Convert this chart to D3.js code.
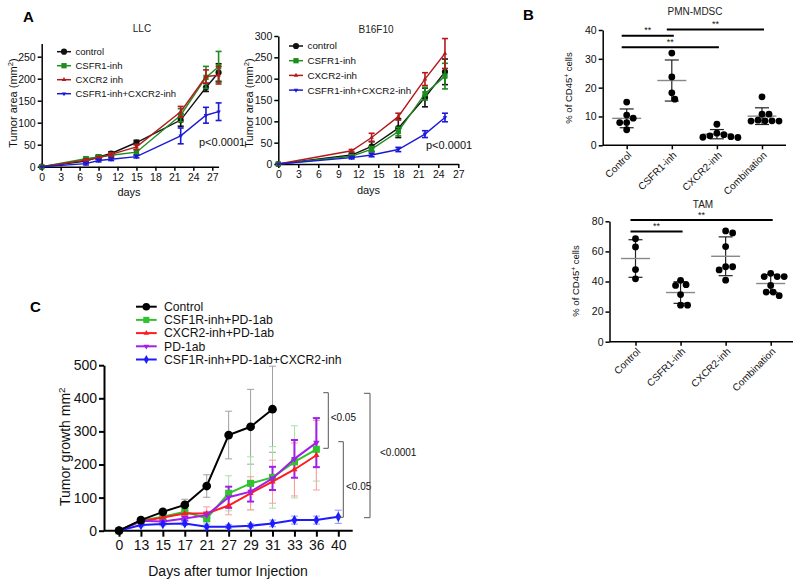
<!DOCTYPE html>
<html><head><meta charset="utf-8">
<script src="https://cdn.jsdelivr.net/npm/d3@7"></script>
<style>body{margin:0;background:#fff} svg{display:block;font-family:"Liberation Sans",Arial,sans-serif}</style>
</head><body><svg id="c" width="800" height="584"></svg>
<script>
// ---------- Panel A: LLC ----------
const llcDays = [0,7,9,11,15,22,26,28];
const llcControl = [0,13,22,30,55,106,180,214];
const llcControlErr = [0,4,4,4,5,14,9,20];
const llcCsfr1 = [0,18,22,26,33,117,203,227];
const llcCsfr1Err = [0,4,4,4,6,15,25,35];
const llcCxcr2 = [0,15,20,28,45,125,205,208];
const llcCxcr2Err = [0,3,3,4,6,12,15,20];
const llcCombo = [0,7,14,17,23,70,117,125];
const llcComboErr = [0,3,3,3,3,18,18,20];
const llcXTicks = [0,3,6,9,12,15,18,21,24,27];
const llcYTicks = [0,50,100,150,200,250];
const llcNames = ["control","CSFR1-inh","CXCR2 inh","CSFR1-inh+CXCR2-inh"];

// ---------- Panel A: B16F10 ----------
const b16Days = [0,11,14,18,22,25];
const b16Control = [0,21,41,84,156,216];
const b16ControlErr = [0,4,12,22,22,30];
const b16Csfr1 = [0,18,35,76,165,206];
const b16Csfr1Err = [0,3,6,10,15,30];
const b16Cxcr2 = [0,31,62,111,199,259];
const b16Cxcr2Err = [0,3,10,8,15,35];
const b16Combo = [0,15,21,34,70,109];
const b16ComboErr = [0,3,4,5,8,10];
const b16XTicks = [0,3,6,9,12,15,18,21,24,27];
const b16YTicks = [0,50,100,150,200,250,300];
const b16Names = ["control","CSFR1-inh","CXCR2-inh","CSFR1-inh+CXCR2-inh"];

// ---------- Panel B ----------
const bGroups = ["Control","CSFR1-inh","CXCR2-inh","Combination"];
const pmnControl = [15.0,10.5,9.4,7.9,7.9,5.4];
const pmnCsfr1 = [32,23.7,18.2,16];
const pmnCxcr2 = [7.3,4.2,3.7,3.3,3.0,2.8,2.7];
const pmnCombo = [16.8,10.8,10.8,8.7,8.5,8.5,8.4,8.4];
const pmnYTicks = [0,10,20,30,40];
const pmnSig = [["Control","CSFR1-inh",38.0],["Control","CXCR2-inh",34.0],["CSFR1-inh","Combination",40.2]];
const tamControl = [68.4,63,47.9,41.8];
const tamCsfr1 = [40.8,37.9,37.4,31.3,24.3,24.3];
const tamCxcr2 = [73.6,72.3,63.2,49.8,49.8,47.7,40.9];
const tamCombo = [45.4,43.3,43.3,43.3,37.4,33,33,30.6];
const tamYTicks = [0,20,40,60,80];
const tamSig = [["Control","CSFR1-inh",73.2],["Control","Combination",80.8]];

// ---------- Panel C ----------
const cDays = ["0","13","15","17","21","27","29","31","33","36","40"];
const cControl = [0,32,57,78,135,289,314,367,null,null,null];
const cControlErr = [0,5,6,17,34,72,113,130,null,null,null];
const cCsf1r = [0,30,42,57,37,113,143,161,208,246,null];
const cCsf1rErr = [0,5,8,10,12,53,80,93,109,96,null];
const cCxcr2 = [0,28,40,52,52,76,113,148,185,228,null];
const cCxcr2Err = [0,5,6,8,20,28,50,65,80,105,null];
const cPd1 = [0,30,28,37,47,101,118,158,217,266,null];
const cPd1Err = [0,4,5,6,8,32,30,35,57,74,null];
const cTriple = [0,17,20,22,12,12,15,22,32,32,42];
const cTripleErr = [0,5,5,6,8,6,6,10,12,12,20];
const cYTicks = [0,100,200,300,400,500];
const cNames = ["Control","CSF1R-inh+PD-1ab","CXCR2-inh+PD-1ab","PD-1ab","CSF1R-inh+PD-1ab+CXCR2-inh"];

const svg = d3.select("#c");

function styleAxis(g, w, fs){
  g.selectAll("path,line").attr("stroke","#000").attr("stroke-width",w);
  g.selectAll("text").attr("fill","#111").attr("font-size",fs).attr("font-family",'"Liberation Sans",Arial,sans-serif');
}
const downTri = {draw(ctx,size){const s=Math.sqrt(size/(Math.sqrt(3)*0.75)); const h=s*Math.sqrt(3)/2; ctx.moveTo(0,h*2/3); ctx.lineTo(s/2,-h/3); ctx.lineTo(-s/2,-h/3); ctx.closePath();}};
const upTri = {draw(ctx,size){const s=Math.sqrt(size/(Math.sqrt(3)*0.75)); const h=s*Math.sqrt(3)/2; ctx.moveTo(0,-h*2/3); ctx.lineTo(s/2,h/3); ctx.lineTo(-s/2,h/3); ctx.closePath();}};

function ylabelRot(text, cx, cy, fs, supText, tailText){
  const t = svg.append("text").attr("transform",`translate(${cx},${cy}) rotate(-90)`)
    .attr("text-anchor","middle").attr("dy","0.35em").attr("font-size",fs).attr("fill","#111").text(text);
  if(supText){ t.append("tspan").attr("baseline-shift","super").attr("font-size",fs*0.7).text(supText);
    t.append("tspan").text(tailText); }
  return t;
}

// ---------- Line panel (A) ----------
function linePanel(cfg){
  const x = d3.scaleLinear().domain(cfg.xDomain).range(cfg.xRange);
  const y = d3.scaleLinear().domain(cfg.yDomain).range(cfg.yRange);
  const gx = svg.append("g").attr("transform",`translate(0,${cfg.yRange[0]})`)
    .call(d3.axisBottom(x).tickValues(cfg.xTicks).tickSize(4).tickSizeOuter(0).tickPadding(3));
  styleAxis(gx,1.5,10.5);
  const gy = svg.append("g").attr("transform",`translate(${cfg.xRange[0]},0)`)
    .call(d3.axisLeft(y).tickValues(cfg.yTicks).tickSize(4).tickSizeOuter(0).tickPadding(2));
  styleAxis(gy,1.5,10.5);
  cfg.series.forEach(s=>{
    const pts = cfg.days.map((d,i)=>({d,v:s.v[i],e:s.e[i]}));
    const g = svg.append("g");
    pts.filter(p=>p.e>0).forEach(p=>{
      g.append("line").attr("x1",x(p.d)).attr("x2",x(p.d)).attr("y1",y(p.v-p.e)).attr("y2",y(p.v+p.e)).attr("stroke",s.c).attr("stroke-width",1.6);
      [p.v-p.e,p.v+p.e].forEach(v=>g.append("line").attr("x1",x(p.d)-3).attr("x2",x(p.d)+3).attr("y1",y(v)).attr("y2",y(v)).attr("stroke",s.c).attr("stroke-width",1.6));
    });
    g.append("path").datum(pts).attr("d",d3.line().x(p=>x(p.d)).y(p=>y(p.v))).attr("fill","none").attr("stroke",s.c).attr("stroke-width",1.4);
    g.selectAll("path.m").data(pts).join("path").attr("class","m")
      .attr("transform",p=>`translate(${x(p.d)},${y(p.v)})`).attr("d",d3.symbol(s.sym,s.size)).attr("fill",s.c);
  });
  // legend
  cfg.series.forEach((s,i)=>{
    const ly = cfg.legY + i*cfg.legDy;
    svg.append("line").attr("x1",cfg.legX).attr("x2",cfg.legX+14).attr("y1",ly).attr("y2",ly).attr("stroke",s.c).attr("stroke-width",1.5);
    svg.append("path").attr("transform",`translate(${cfg.legX+7},${ly})`).attr("d",d3.symbol(s.sym,s.size)).attr("fill",s.c);
    svg.append("text").attr("x",cfg.legX+18.5).attr("y",ly).attr("dy","0.35em").attr("font-size",cfg.legFs).attr("fill","#111").text(s.name);
  });
  svg.append("text").attr("x",cfg.titleX).attr("y",cfg.titleY).attr("text-anchor","middle").attr("font-size",10).attr("fill","#222").text(cfg.title);
  svg.append("text").attr("x",cfg.daysX).attr("y",cfg.daysY).attr("text-anchor","middle").attr("font-size",11).attr("fill","#111").text("days");
  svg.append("text").attr("x",cfg.pX).attr("y",cfg.pY).attr("font-size",11).attr("fill","#111").text("p<0.0001");
  ylabelRot("Tumor area (mm", cfg.ylabX, 103, 11, "2", ")");
}

const colA = {k:"#111",g:"#1e8c1e",r:"#b31b1b",b:"#1a1ad6"};
linePanel({xDomain:[0,28],xRange:[41.7,218.6],yDomain:[0,280],yRange:[166.7,43.5],xTicks:llcXTicks,yTicks:llcYTicks,
  days:llcDays, series:[
    {name:llcNames[0],v:llcControl,e:llcControlErr,c:colA.k,sym:d3.symbolCircle,size:30},
    {name:llcNames[1],v:llcCsfr1,e:llcCsfr1Err,c:colA.g,sym:d3.symbolSquare,size:28},
    {name:llcNames[2],v:llcCxcr2,e:llcCxcr2Err,c:colA.r,sym:upTri,size:26},
    {name:llcNames[3],v:llcCombo,e:llcComboErr,c:colA.b,sym:downTri,size:26}],
  legX:57,legY:51.7,legDy:14,legFs:9.5,title:"LLC",titleX:142,titleY:32,daysX:129,daysY:196,pX:199,pY:145.5,ylabX:13});
linePanel({xDomain:[0,27],xRange:[278.3,458.3],yDomain:[0,300],yRange:[164,36],xTicks:b16XTicks,yTicks:b16YTicks,
  days:b16Days, series:[
    {name:b16Names[0],v:b16Control,e:b16ControlErr,c:colA.k,sym:d3.symbolCircle,size:30},
    {name:b16Names[1],v:b16Csfr1,e:b16Csfr1Err,c:colA.g,sym:d3.symbolSquare,size:28},
    {name:b16Names[2],v:b16Cxcr2,e:b16Cxcr2Err,c:colA.r,sym:upTri,size:26},
    {name:b16Names[3],v:b16Combo,e:b16ComboErr,c:colA.b,sym:downTri,size:26}],
  legX:289,legY:46,legDy:14.7,legFs:9.8,title:"B16F10",titleX:376,titleY:33,daysX:368.5,daysY:194,pX:426,pY:149,ylabX:249});

// ---------- Scatter panel (B) ----------
function beeswarm(vals, y, minD){
  const sorted = vals.map(v=>v).sort((a,b)=>b-a);
  const placed = [];
  sorted.forEach(v=>{
    const py = y(v);
    for(let k=0;k<200;k+=0.5){
      const cands = k===0?[0]:[k,-k];
      let ok=null;
      for(const dx of cands){
        if(placed.every(p=>Math.hypot(p.dx-dx,p.py-py)>=minD)){ok=dx;break;}
      }
      if(ok!==null){placed.push({v,py,dx:ok});break;}
    }
  });
  return placed;
}
function scatterPanel(cfg){
  const x = d3.scalePoint().domain(bGroups).range(cfg.xRange);
  const y = d3.scaleLinear().domain(cfg.yDomain).range(cfg.yRange);
  const axY = cfg.yRange[0];
  const gx = svg.append("g").attr("transform",`translate(0,${axY})`).call(d3.axisBottom(x).tickSize(4).tickSizeOuter(0));
  gx.select(".domain").remove();
  gx.selectAll(".tick text").remove();
  styleAxis(gx,1.5,10);
  svg.append("line").attr("x1",cfg.axisX).attr("x2",cfg.axisEnd).attr("y1",axY).attr("y2",axY).attr("stroke","#000").attr("stroke-width",1.5);
  bGroups.forEach(gname=>{
    svg.append("text").attr("transform",`translate(${x(gname)+3},${axY+8}) rotate(-45)`).attr("text-anchor","end").attr("dy","0.35em")
      .attr("font-size",10).attr("fill","#111").text(gname);
  });
  const gy = svg.append("g").attr("transform",`translate(${cfg.axisX},0)`).call(d3.axisLeft(y).tickValues(cfg.yTicks).tickSize(4).tickSizeOuter(0).tickPadding(2));
  styleAxis(gy,1.5,10.5);
  cfg.data.forEach((vals,i)=>{
    const cx = x(bGroups[i]);
    const m = d3.mean(vals), sd = d3.deviation(vals);
    svg.append("line").attr("x1",cx).attr("x2",cx).attr("y1",y(m-sd)).attr("y2",y(m+sd)).attr("stroke","#222").attr("stroke-width",1.2);
    [m-sd,m+sd].forEach(v=>svg.append("line").attr("x1",cx-7).attr("x2",cx+7).attr("y1",y(v)).attr("y2",y(v)).attr("stroke","#222").attr("stroke-width",1.2));
    svg.append("line").attr("x1",cx-14.5).attr("x2",cx+14.5).attr("y1",y(m)).attr("y2",y(m)).attr("stroke","#888").attr("stroke-width",1.4);
    beeswarm(vals,y,7).forEach(p=>svg.append("circle").attr("cx",cx+p.dx).attr("cy",p.py).attr("r",3.4).attr("fill","#000"));
  });
  cfg.sig.forEach(s=>{
    const x1 = x(s[0])-5, x2 = x(s[1])+2, yy = y(s[2]);
    svg.append("line").attr("x1",x1).attr("x2",x2).attr("y1",yy).attr("y2",yy).attr("stroke","#000").attr("stroke-width",2);
    svg.append("text").attr("x",(x1+x2)/2).attr("y",yy-2.5).attr("text-anchor","middle").attr("font-size",9).attr("fill","#111").text("**");
  });
  svg.append("text").attr("x",cfg.titleX).attr("y",cfg.titleY).attr("text-anchor","middle").attr("font-size",10).attr("fill","#222").text(cfg.title);
  ylabelRot("% of CD45", cfg.ylabX, cfg.ylabY, 9.5, "+", " cells");
}
scatterPanel({xRange:[626.7,762],yDomain:[0,40],yRange:[145.3,30],axisX:602.7,axisEnd:786,yTicks:pmnYTicks,
  data:[pmnControl,pmnCsfr1,pmnCxcr2,pmnCombo],sig:pmnSig,title:"PMN-MDSC",titleX:695,titleY:14.5,ylabX:569,ylabY:88});
scatterPanel({xRange:[635.5,770.7],yDomain:[0,80],yRange:[341.7,221.3],axisX:609.5,axisEnd:793,yTicks:tamYTicks,
  data:[tamControl,tamCsfr1,tamCxcr2,tamCombo],sig:tamSig,title:"TAM",titleX:703,titleY:207.5,ylabX:576,ylabY:281});

// ---------- Panel C ----------
(function(){
  const x = d3.scalePoint().domain(cDays).range([119,338.3]);
  const y = d3.scaleLinear().domain([0,500]).range([530.7,365.2]);
  const gx = svg.append("g").attr("transform","translate(0,530.7)").call(d3.axisBottom(x).tickSize(6).tickSizeOuter(0).tickPadding(3));
  gx.select(".domain").remove();
  styleAxis(gx,2,14);
  svg.append("line").attr("x1",104).attr("x2",352.7).attr("y1",530.7).attr("y2",530.7).attr("stroke","#000").attr("stroke-width",2);
  const gy = svg.append("g").attr("transform","translate(104,0)").call(d3.axisLeft(y).tickValues(cYTicks).tickSize(5).tickSizeOuter(0).tickPadding(2));
  styleAxis(gy,2,14);
  const series = [
    {name:cNames[0],v:cControl,e:cControlErr,c:"#000",ec:"#a0a0a0",ew:1,sym:d3.symbolCircle,size:60},
    {name:cNames[1],v:cCsf1r,e:cCsf1rErr,c:"#2fc42f",ec:"#a6e3a6",ew:1,sym:d3.symbolSquare,size:50},
    {name:cNames[2],v:cCxcr2,e:cCxcr2Err,c:"#ff1c1c",ec:"#ff9c9c",ew:1,sym:upTri,size:50},
    {name:cNames[3],v:cPd1,e:cPd1Err,c:"#a21fe8",ec:"#a21fe8",ew:2,sym:downTri,size:55},
    {name:cNames[4],v:cTriple,e:cTripleErr,c:"#1c1cff",ec:"#9393ff",ew:1,sym:d3.symbolDiamond,size:30}];
  series.forEach(s=>{
    cDays.forEach((d,i)=>{
      if(s.v[i]==null||!s.e[i]) return;
      const v=s.v[i], e=s.e[i], cx=x(d);
      svg.append("line").attr("x1",cx).attr("x2",cx).attr("y1",y(v-e)).attr("y2",y(v+e)).attr("stroke",s.ec).attr("stroke-width",s.ew);
      [v-e,v+e].forEach(vv=>svg.append("line").attr("x1",cx-3.5).attr("x2",cx+3.5).attr("y1",y(vv)).attr("y2",y(vv)).attr("stroke",s.ec).attr("stroke-width",s.ew));
    });
  });
  const order=[1,2,3,4,0];
  order.forEach(k=>{
    const s=series[k];
    const pts = cDays.map((d,i)=>({d,v:s.v[i]})).filter(p=>p.v!=null);
    svg.append("path").datum(pts).attr("d",d3.line().x(p=>x(p.d)).y(p=>y(p.v))).attr("fill","none").attr("stroke",s.c).attr("stroke-width",2);
    pts.forEach(p=>svg.append("path").attr("transform",`translate(${x(p.d)},${y(p.v)})`).attr("d",d3.symbol(s.sym,s.size)).attr("fill",s.c));
  });
  series.forEach((s,i)=>{
    const ly = 306.7 + i*13.2;
    svg.append("line").attr("x1",136).attr("x2",156.7).attr("y1",ly).attr("y2",ly).attr("stroke",s.c).attr("stroke-width",2);
    svg.append("path").attr("transform",`translate(146.3,${ly})`).attr("d",d3.symbol(s.sym,s.size*0.75)).attr("fill",s.c);
    svg.append("text").attr("x",164).attr("y",ly).attr("dy","0.35em").attr("font-size",12.2).attr("fill","#111").text(s.name);
  });
  // significance brackets
  const brackets = [[328.3,323.3,392.7,448.3,"<0.05",330.7,417.3],[343.3,338.3,441.7,517.3,"<0.05",346,486.7],[370,364,393.3,517.7,"<0.0001",380,452.7]];
  brackets.forEach(b=>{
    svg.append("path").attr("d",`M${b[1]},${b[2]}H${b[0]}V${b[3]}H${b[1]}`).attr("fill","none").attr("stroke","#555").attr("stroke-width",1);
    svg.append("text").attr("x",b[5]).attr("y",b[6]).attr("dy","0.35em").attr("font-size",10).attr("fill","#111").text(b[4]);
  });
  svg.append("text").attr("x",228).attr("y",575.5).attr("text-anchor","middle").attr("font-size",14).attr("fill","#111").text("Days after tumor Injection");
  ylabelRot("Tumor growth mm", 65, 446.7, 14, "2", "");
})();

// panel letters
[["A",23,21.7],["B",523,20],["C",30,312]].forEach(l=>svg.append("text").attr("x",l[1]).attr("y",l[2]).attr("font-size",15).attr("font-weight","bold").attr("fill","#000").text(l[0]));
</script></body></html>
